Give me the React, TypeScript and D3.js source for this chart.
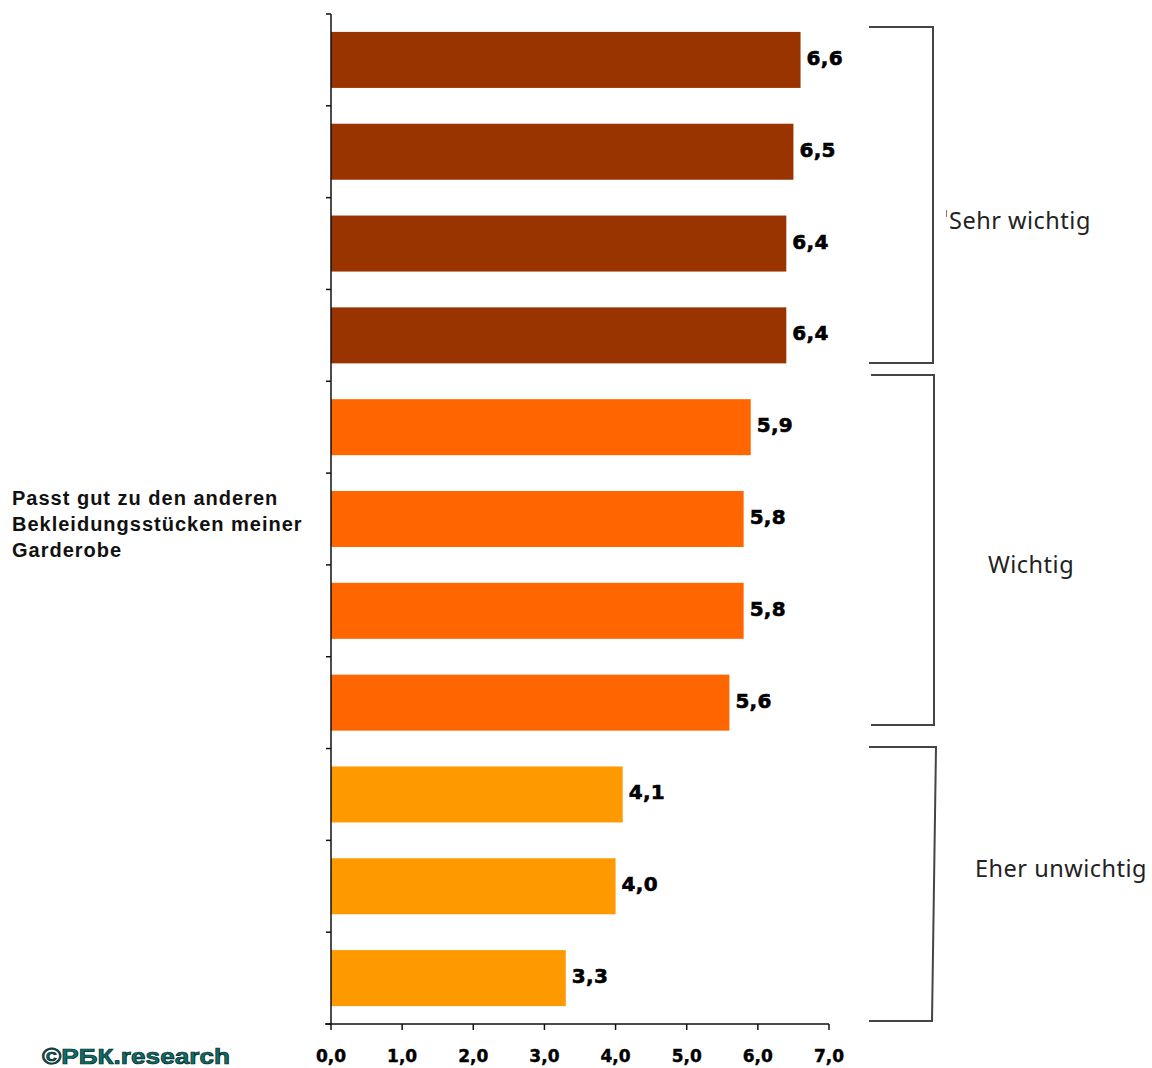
import React from "react";
import * as d3 from "d3";

const categories: string[] = ["c1", "c2", "c3", "c4", "c5", "c6", "c7", "c8", "c9", "c10", "c11"];
const categoryLabels: string[][] = [[], [], [], [], [], ["Passt gut zu den anderen", "Bekleidungsstücken meiner", "Garderobe"], [], [], [], [], []];
const values: number[] = [6.6, 6.5, 6.4, 6.4, 5.9, 5.8, 5.8, 5.6, 4.1, 4.0, 3.3];
const groupOf: number[] = [0, 0, 0, 0, 1, 1, 1, 1, 2, 2, 2];
const groupColors: string[] = ["#993300", "#FF6600", "#FF9900"];
const groupNames: string[] = ["Sehr wichtig", "Wichtig", "Eher unwichtig"];
const xTicks: number[] = [0, 1, 2, 3, 4, 5, 6, 7];

const W = 1152;
const H = 1068;
const X0 = 331;
const X1 = 829;
const Y0 = 14;
const Y1 = 1024;

// bracket annotation layout
const brackets = [
  { x1: 869, x2: 933, x2b: 933, top: 27, bottom: 363, tx: 949, ty: 229, anchor: "start" },
  { x1: 871, x2: 934, x2b: 934, top: 375, bottom: 725, tx: 1031, ty: 573, anchor: "middle" },
  { x1: 869, x2: 936, x2b: 932, top: 747, bottom: 1021, tx: 975, ty: 877, anchor: "start" },
];

const fmt = (v: number) => v.toFixed(1).replace(".", ",");

export default function App() {
  const x = d3.scaleLinear().domain([0, 7]).range([X0, X1]);
  const y = d3
    .scaleBand<string>()
    .domain(categories)
    .range([Y0, Y1])
    .paddingInner(0.39)
    .paddingOuter(0.195);
  const bw = y.bandwidth();
  const boundaries = d3.range(categories.length + 1).map((i) => Y0 + i * ((Y1 - Y0) / categories.length));

  return (
    <svg width={W} height={H} style={{ position: "absolute", left: 0, top: 0, background: "#fff" }}>
      <rect x={0} y={0} width={W} height={H} fill="#fff" />
      {categories.map((c, i) => (
        <rect
          key={c}
          x={x(0)}
          y={y(c)}
          width={x(values[i]) - x(0)}
          height={bw}
          fill={groupColors[groupOf[i]]}
        />
      ))}
      {categories.map((c, i) => (
        <text
          key={"v" + c}
          x={x(values[i]) + 6}
          y={(y(c) as number) + bw / 2 + 5}
          fontFamily="DejaVu Sans"
          fontWeight="bold"
          fontSize={20}
          letterSpacing={0.3}
          fill="#000"
          stroke="#000"
          strokeWidth={0.6}
        >
          {fmt(values[i])}
        </text>
      ))}
      <line x1={X0} x2={X0} y1={Y0} y2={Y1} stroke="#111" strokeWidth={1.5} />
      {boundaries.map((b, i) => (
        <line key={"yt" + i} x1={X0 - 5} x2={X0} y1={b} y2={b} stroke="#111" strokeWidth={1.5} />
      ))}
      {categories.map((c, i) =>
        categoryLabels[i].map((line, j) => (
          <text
            key={"cl" + i + "-" + j}
            x={12}
            y={(y(c) as number) + bw / 2 - 14 + j * 26}
            fontFamily="Liberation Sans, Arial"
            fontWeight="bold"
            fontSize={20}
            letterSpacing={1}
            fill="#111"
          >
            {line}
          </text>
        ))
      )}
      <line x1={X0 - 6} x2={X1} y1={Y1} y2={Y1} stroke="#111" strokeWidth={1.5} />
      {xTicks.map((t) => (
        <g key={"xt" + t}>
          <line x1={x(t)} x2={x(t)} y1={Y1} y2={Y1 + 6} stroke="#111" strokeWidth={1.5} />
          <text
            x={x(t)}
            y={Y1 + 38}
            textAnchor="middle"
            fontFamily="DejaVu Sans"
            fontWeight="bold"
            fontSize={17}
            fill="#000"
            stroke="#000"
            strokeWidth={0.4}
          >
            {fmt(t)}
          </text>
        </g>
      ))}
      {brackets.map((b, i) => (
        <g key={"br" + i}>
          <path
            d={`M${b.x1},${b.top} L${b.x2},${b.top} L${b.x2b},${b.bottom} L${b.x1},${b.bottom}`}
            fill="none"
            stroke="#444"
            strokeWidth={2}
          />
          <text
            x={b.tx}
            y={b.ty}
            textAnchor={b.anchor as any}
            fontFamily="Noto Sans"
            fontSize={23.5}
            letterSpacing={0.5}
            fill="#222"
          >
            {groupNames[i]}
          </text>
        </g>
      ))}
      <line x1={946.5} x2={946.5} y1={210} y2={217} stroke="#777" strokeWidth={1} />
      <text
        x={42}
        y={1064}
        fontFamily="Liberation Sans, Arial"
        fontWeight="bold"
        fontSize={22}
        textLength={188}
        lengthAdjust="spacingAndGlyphs"
        fill="#0d6e68"
        stroke="#022"
        strokeWidth={0.7}
      >
        ©РБК.research
      </text>
    </svg>
  );
}
